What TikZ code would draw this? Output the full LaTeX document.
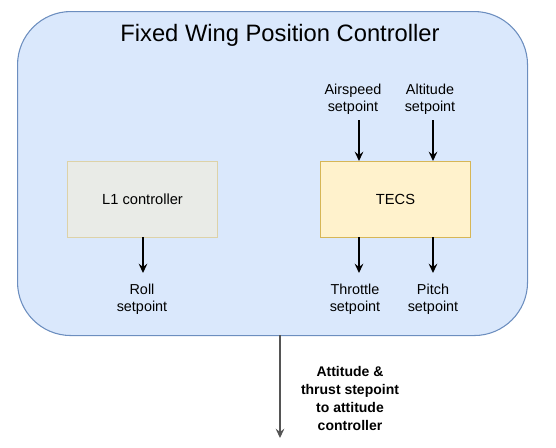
\documentclass[tikz,border=0pt]{standalone}
\usepackage{fontspec}
\setmainfont{Liberation Sans}
\usetikzlibrary{arrows.meta}
\definecolor{outerfill}{HTML}{DAE8FC}
\definecolor{outerdraw}{HTML}{6C8EBF}
\definecolor{lfill}{HTML}{E9EBE7}
\definecolor{ldraw}{HTML}{DDD2A8}
\definecolor{tfill}{HTML}{FFF2CC}
\definecolor{tdraw}{HTML}{D6B656}
\definecolor{outarrow}{HTML}{555555}
\tikzset{
  px/.style={x=0.75pt,y=-0.75pt},
  lbl/.style={font=\fontsize{10.8}{12.75}\selectfont, align=center, inner sep=0pt},
  arr/.style={line width=1.1pt, -{Stealth[length=7pt,width=6.5pt,inset=2.5pt]}},
  blk/.style={draw, line width=0.8pt, minimum width=112.5pt, minimum height=57pt, font=\fontsize{11}{13}\selectfont, anchor=north west}
}
\begin{document}
\begin{tikzpicture}[px]
\useasboundingbox (0,0) rectangle (556,447);
\node[draw=outerdraw, fill=outerfill, line width=0.8pt, rounded corners=40pt, minimum width=382.5pt, minimum height=243pt, anchor=north west, inner sep=0pt] (outer) at (17,11) {};
\node[font=\fontsize{17.8}{20}\selectfont, inner sep=0pt] (title) at (280,35) {Fixed Wing Position Controller};
\node[blk, fill=lfill, draw=ldraw] (l1) at (67,161) {L1 controller};
\node[blk, fill=tfill, draw=tdraw] (tecs) at (320,161) {TECS};
\coordinate (l1o) at (143,237);
\coordinate (t1i) at (359,161);
\coordinate (t2i) at (433,161);
\coordinate (t1o) at (359,237);
\coordinate (t2o) at (433,237);
\node[lbl] (roll) at (142,299) {Roll\\setpoint};
\node[lbl] (thr) at (355,299) {Throttle\\setpoint};
\node[lbl] (pitch) at (433,299) {Pitch\\setpoint};
\node[lbl] (air) at (353,99) {Airspeed\\setpoint};
\node[lbl] (alt) at (430,99) {Altitude\\setpoint};
\coordinate (rollin) at (143,273);
\coordinate (thrin) at (359,273);
\coordinate (pitchin) at (433,273);
\coordinate (airout) at (359,120);
\coordinate (altout) at (433,120);
\draw[arr] (l1o) -- (rollin);
\draw[arr] (t1o) -- (thrin);
\draw[arr] (t2o) -- (pitchin);
\draw[arr] (airout) -- (t1i);
\draw[arr] (altout) -- (t2i);
\coordinate (os) at (280,335);
\coordinate (oe) at (280,438);
\draw[arr, draw=outarrow, line width=1.5pt, -{Stealth[length=7pt,width=6.5pt,inset=2.5pt,fill=black]}] (os) -- (oe);
\node[lbl, font=\fontsize{10.5}{13.5}\selectfont\bfseries] (outlbl) at (350,398) {Attitude \&\\thrust stepoint\\to attitude\\controller};
\end{tikzpicture}
\end{document}
